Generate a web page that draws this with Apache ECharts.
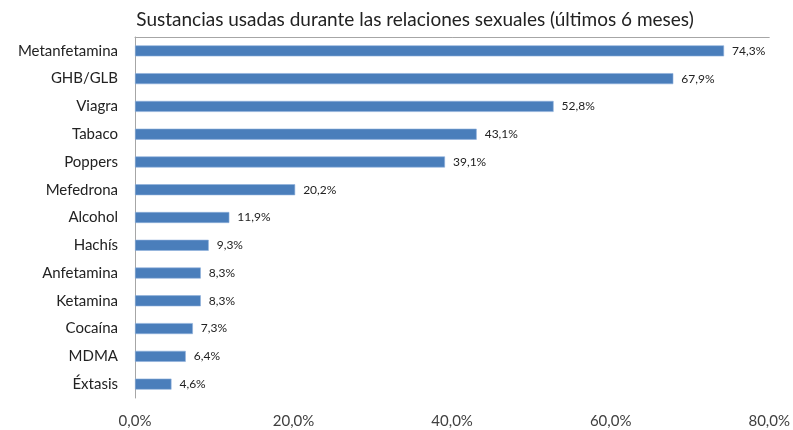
<!DOCTYPE html>
<html>
<head>
<meta charset="utf-8">
<script src="https://cdn.jsdelivr.net/npm/echarts@6/dist/echarts.min.js"></script>
<style>html,body{margin:0;padding:0;background:#fff}#c{width:793px;height:430px}</style>
</head>
<body>
<div id="c"></div>
<script>
var titleText = 'Sustancias usadas durante las relaciones sexuales (últimos 6 meses)';
var categories = ['Metanfetamina','GHB/GLB','Viagra','Tabaco','Poppers','Mefedrona','Alcohol','Hachís','Anfetamina','Ketamina','Cocaína','MDMA','Éxtasis'];
var values = [74.3, 67.9, 52.8, 43.1, 39.1, 20.2, 11.9, 9.3, 8.3, 8.3, 7.3, 6.4, 4.6];
var xTicks = [0, 20, 40, 60, 80];

function pct(v){ return v.toFixed(1).replace('.', ',') + '%'; }
var FONT = 'Lato, "Open Sans", sans-serif';
var chart = echarts.init(document.getElementById('c'));
chart.setOption({
  animation: false,
  backgroundColor: '#fff',
  title: {
    text: titleText, left: 410, textAlign: 'center', top: 5,
    textStyle: {fontFamily: FONT, fontSize: 19, fontWeight: 'normal', color: '#222'}
  },
  grid: {left: 135, right: 22, top: 37, bottom: 32, containLabel: false},
  xAxis: [{
    type: 'value', min: xTicks[0], max: xTicks[xTicks.length-1], interval: 20,
    axisLine: {show: false}, axisTick: {show: false}, splitLine: {show: false},
    axisLabel: {formatter: function(v){ return pct(v); }, margin: 16,
      fontFamily: FONT, fontSize: 15, color: '#404040'}
  }, {
    type: 'value', position: 'top', min: 0, max: 80,
    axisLine: {show: true, lineStyle: {color: '#a6a6a6', width: 1}},
    axisTick: {show: false}, axisLabel: {show: false}, splitLine: {show: false}
  }],
  yAxis: {
    type: 'category', data: categories, inverse: true,
    axisLine: {show: true, lineStyle: {color: '#a6a6a6', width: 1}},
    axisTick: {show: false},
    axisLabel: {margin: 17, fontFamily: FONT, fontSize: 15, color: '#222'}
  },
  series: [{
    type: 'bar', data: values, barWidth: 11,
    itemStyle: {color: '#4A7EBB', borderColor: '#8fb0dc', borderWidth: 0.6},
    label: {show: true, position: 'right', distance: 8,
      formatter: function(p){ return pct(p.value); },
      fontFamily: FONT, fontSize: 12, color: '#222'}
  }]
});
</script>
</body>
</html>
